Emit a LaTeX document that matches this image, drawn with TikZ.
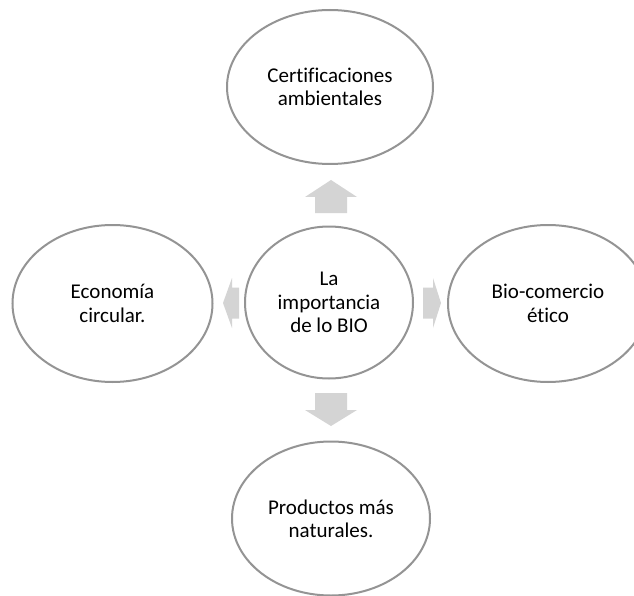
\documentclass[tikz,border=0pt]{standalone}
\usepackage{fontspec}
\setmainfont{Carlito}[Ligatures={NoCommon,NoRare,NoContextual},Contextuals=NoAlternate]
\usetikzlibrary{shapes.geometric}
\definecolor{ringgray}{RGB}{148,148,148}
\definecolor{arrowgray}{RGB}{212,212,212}
\begin{document}
\begin{tikzpicture}[x=1pt,y=-1pt,
  bubble/.style={ellipse, draw=ringgray, line width=2pt, fill=white,
    inner sep=0pt, align=center, text=black,
    font=\fontsize{21}{23.3}\selectfont},
  blockarrow/.style={fill=arrowgray, draw=none}]
\useasboundingbox (0,0) rectangle (634,596);
\clip (0,0) rectangle (634,596);
\fill[white] (0,0) rectangle (634,596);

\node[bubble, minimum width=168pt, minimum height=152pt] (c) at (329,302.5) {La\\importancia\\de lo BIO};
\node[bubble, minimum width=206pt, minimum height=154pt] (t) at (330,87) {Certificaciones\\ambientales};
\node[bubble, minimum width=200pt, minimum height=157pt] (l) at (112.5,303.5) {Economía\\circular.};
\node[bubble, minimum width=200pt, minimum height=157pt] (r) at (548,303.5) {Bio-comercio\\ético};
\node[bubble, minimum width=198pt, minimum height=154pt] (b) at (331,518.5) {Productos más\\naturales.};

\coordinate (aU) at (331,196.5);
\coordinate (aD) at (331,409.5);
\coordinate (aL) at (231,303);
\coordinate (aR) at (432,303);

\fill[blockarrow, shift={(aU)}] (0,-16.5) -- (26,0.5) -- (16,0.5) -- (16,16.5)
  -- (-16,16.5) -- (-16,0.5) -- (-26,0.5) -- cycle;
\fill[blockarrow, shift={(aD)}] (0,16.5) -- (26,0.5) -- (16,0.5) -- (16,-16.5)
  -- (-16,-16.5) -- (-16,0.5) -- (-26,0.5) -- cycle;
\fill[blockarrow, shift={(aL)}] (-8,0) -- (1,-25) -- (1,-15.5) -- (8,-15.5)
  -- (8,15.5) -- (1,15.5) -- (1,25) -- cycle;
\fill[blockarrow, shift={(aR)}] (9,0) -- (1,-25) -- (1,-15.5) -- (-9,-15.5)
  -- (-9,15.5) -- (1,15.5) -- (1,25) -- cycle;
\end{tikzpicture}
\end{document}
